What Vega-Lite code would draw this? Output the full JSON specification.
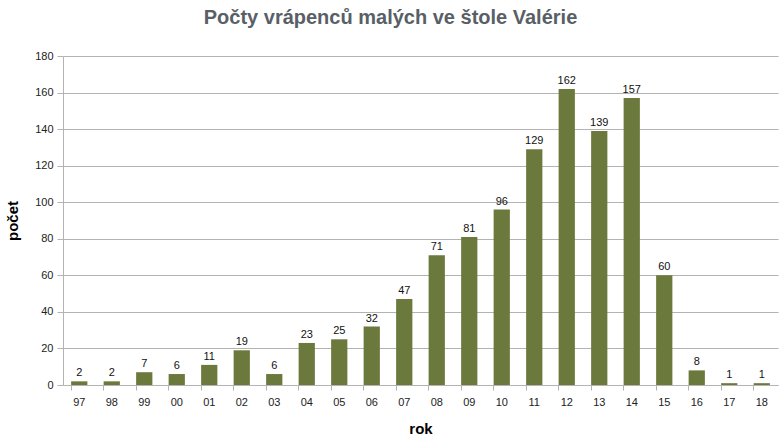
{
  "$schema": "https://vega.github.io/schema/vega-lite/v6.json",
  "width": 715,
  "height": 329,
  "autosize": {"type": "none"},
  "padding": {"left": 63, "top": 56, "right": 2, "bottom": 52},
  "background": "white",
  "title": {
    "text": "Počty vrápenců malých ve štole Valérie",
    "font": "Liberation Sans",
    "fontSize": 20,
    "fontWeight": "bold",
    "color": "#595f66",
    "anchor": "middle",
    "dx": -30,
    "offset": 22
  },
  "config": {
    "view": {"stroke": null},
    "axis": {"labelFont": "Liberation Sans", "titleFont": "Liberation Sans", "labelFontSize": 11, "labelColor": "#222", "titleFontSize": 15, "titleFontWeight": "bold", "titleColor": "#000", "domainColor": "#b3b3b3", "tickColor": "#b3b3b3", "gridColor": "#b3b3b3"}
  },
  "data": {
    "values": [
      {"rok": "97", "pocet": 2},
      {"rok": "98", "pocet": 2},
      {"rok": "99", "pocet": 7},
      {"rok": "00", "pocet": 6},
      {"rok": "01", "pocet": 11},
      {"rok": "02", "pocet": 19},
      {"rok": "03", "pocet": 6},
      {"rok": "04", "pocet": 23},
      {"rok": "05", "pocet": 25},
      {"rok": "06", "pocet": 32},
      {"rok": "07", "pocet": 47},
      {"rok": "08", "pocet": 71},
      {"rok": "09", "pocet": 81},
      {"rok": "10", "pocet": 96},
      {"rok": "11", "pocet": 129},
      {"rok": "12", "pocet": 162},
      {"rok": "13", "pocet": 139},
      {"rok": "14", "pocet": 157},
      {"rok": "15", "pocet": 60},
      {"rok": "16", "pocet": 8},
      {"rok": "17", "pocet": 1},
      {"rok": "18", "pocet": 1}
    ]
  },
  "encoding": {
    "x": {
      "field": "rok", "type": "nominal", "sort": null,
      "scale": {"paddingInner": 0.5, "paddingOuter": 0.25},
      "axis": {"title": "rok", "labelAngle": 0, "labelPadding": 6, "tickSize": 5, "bandPosition": 0, "titlePadding": 14}
    },
    "y": {
      "field": "pocet", "type": "quantitative",
      "scale": {"domain": [0, 180]},
      "axis": {"title": "počet", "values": [0,20,40,60,80,100,120,140,160,180], "tickSize": 6, "labelPadding": 4, "titlePadding": 14, "grid": true}
    }
  },
  "layer": [
    {"mark": {"type": "bar", "color": "#6b7a3c"}},
    {"mark": {"type": "text", "dy": -8, "font": "Liberation Sans", "fontSize": 11, "color": "#111"}, "encoding": {"text": {"field": "pocet", "type": "quantitative"}}}
  ]
}
